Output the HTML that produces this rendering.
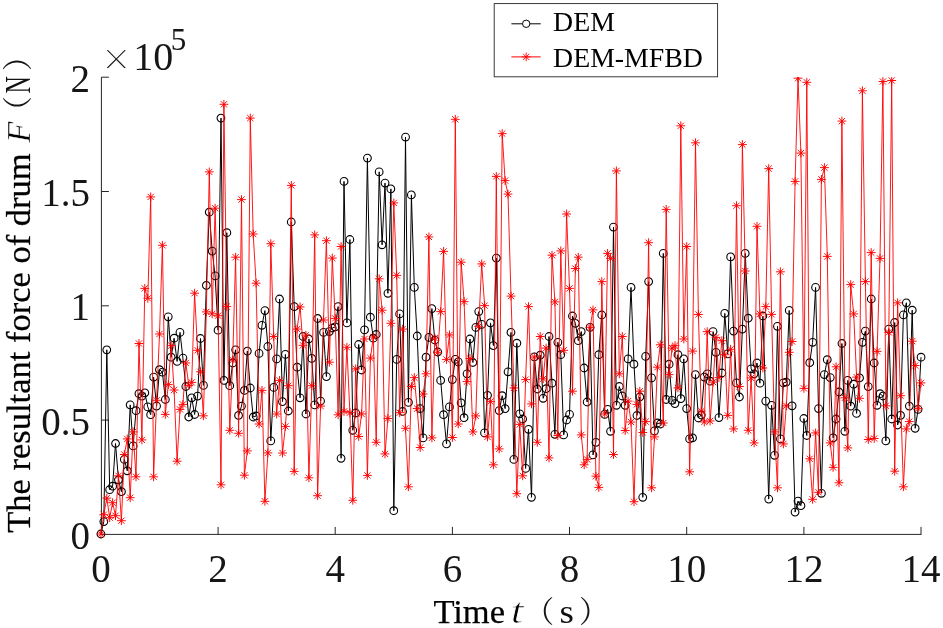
<!DOCTYPE html>
<html lang="en"><head><meta charset="utf-8"><title>Resultant force of drum</title>
<style>
html,body{margin:0;padding:0;background:#fff}
body{width:943px;height:628px;overflow:hidden}
svg{display:block;will-change:transform;opacity:0.9999}
text{font-family:"Liberation Serif","Noto Serif CJK SC",serif;fill:#161616}
.tk{font-size:39px}
.lb{font-size:34.5px;fill:#000;stroke:#000;stroke-width:0.25px}
.cj{font-family:"Noto Serif CJK SC","Liberation Serif",serif;font-size:30px}
.lg{font-size:27.8px;fill:#000}
</style></head><body>
<svg width="943" height="628" viewBox="0 0 943 628">
<defs><clipPath id="cp"><rect x="90" y="77" width="853" height="470"/></clipPath></defs>
<rect width="943" height="628" fill="#fff"/>
<path d="M101.4 77.2V534.4H921.5M218.1 534.4v-7.5M335.2 534.4v-7.5M452.4 534.4v-7.5M569.5 534.4v-7.5M686.7 534.4v-7.5M803.9 534.4v-7.5M921 534.4v-7.5M101.4 420.1h7.5M101.4 305.8h7.5M101.4 191.5h7.5M101.4 77.2h7.5" fill="none" stroke="#262626" stroke-width="1"/>
<polyline points="100.9,534 103.8,521.6 106.8,349.8 109.7,489.7 112.6,486.2 115.5,443.5 118.5,479.8 121.4,491.7 124.3,459.4 127.3,470.8 130.2,404.9 133.1,445.9 136,410.7 139,393.7 141.9,396.1 144.8,392.8 147.8,406.9 150.7,414.7 153.6,377.1 156.6,406.1 159.5,369.7 162.4,372.1 165.3,399.5 168.3,316.8 171.2,357.2 174.1,338.2 177.1,361.4 180,332.4 182.9,358.1 185.8,386.5 188.8,417 191.7,397.8 194.6,414.5 197.6,396.1 200.5,338.5 203.4,385.4 206.3,285.4 209.3,212.2 212.2,251.1 215.1,275.9 218.1,330.2 221,118.1 223.9,380.4 226.8,232.7 229.8,385.7 232.7,363 235.6,349.8 238.6,415.4 241.5,406.1 244.4,390.4 247.3,351.1 250.3,388 253.2,417 256.1,416 259.1,353.4 262,325.3 264.9,310.6 267.9,346.5 270.8,440.9 273.7,387.4 276.6,358.9 279.6,299 282.5,401.6 285.4,354.4 288.4,411 291.3,222 294.2,306.6 297.1,367.2 300.1,397.8 303,336.5 305.9,414 308.9,339 311.8,358.4 314.7,404.9 317.6,318.5 320.6,401.1 323.5,332.4 326.4,376.6 329.4,331.6 332.3,328 335.2,326.9 338.1,306.6 341.1,458.3 344,181.4 346.9,322.9 349.9,239.5 352.8,430.3 355.7,413 358.7,344.5 361.6,370 364.5,329.9 367.4,158.1 370.4,317.2 373.3,338.2 376.2,334.5 379.2,171.9 382.1,244.8 385,183.1 387.9,293.3 390.9,188.9 393.8,510.7 396.7,359.4 399.7,313.9 402.6,411.5 405.5,137.1 408.4,402.4 411.4,194.9 414.3,287.4 417.2,336 420.2,408.6 423.1,437.9 426,357.2 428.9,337.4 431.9,308.6 434.8,340 437.7,352 440.7,380.4 443.6,414.7 446.5,443.9 449.5,406.9 452.4,379.6 455.3,359.4 458.2,361.9 461.2,402.8 464.1,417.7 467,373.8 470,339 472.9,362.5 475.8,327.4 478.7,311.6 481.7,324.4 484.6,432.9 487.5,395.3 490.5,322.9 493.4,345.6 496.3,258.1 499.2,410.6 502.2,395.7 505.1,408.6 508,371.8 511,332.4 513.9,459.4 516.8,343.2 519.7,413.8 522.7,419 525.6,468.4 528.5,429.3 531.5,497.3 534.4,356.9 537.3,389 540.2,355.2 543.2,398.3 546.1,388.7 549,336.5 552,383.2 554.9,434.3 557.8,342.3 560.8,354.7 563.7,434.9 566.6,420 569.5,414.4 572.5,316 575.4,323.3 578.3,340.7 581.3,331.6 584.2,368 587.1,402 590,327.4 593,454.9 595.9,442.3 598.8,354.7 601.8,315 604.7,414.4 607.6,409.4 610.5,431.3 613.5,227.1 616.4,405.3 619.3,386.5 622.3,396 625.2,405.3 628.1,358.9 631,287.4 634,364.2 636.9,415.5 639.8,397 642.8,497.3 645.7,356.4 648.6,281.6 651.6,377.9 654.5,430.9 657.4,423 660.3,424 663.3,253.4 666.2,399.5 669.1,364.2 672.1,400.3 675,403.6 677.9,354.7 680.8,398.6 683.8,358.9 686.7,408.6 689.6,438.9 692.6,437.9 695.5,374.6 698.4,418 701.3,415 704.3,377.1 707.2,373.8 710.1,381.2 713.1,331.6 716,352.3 718.9,417.6 721.8,373 724.8,313.4 727.7,353.9 730.6,256.9 733.6,331.1 736.5,382.9 739.4,397 742.4,329.1 745.3,253.4 748.2,318.2 751.1,368.8 754.1,373.8 757,363 759.9,383.2 762.9,316 765.8,401.1 768.7,499.1 771.6,405.3 774.6,455.3 777.5,326.3 780.4,438.9 783.4,382.9 786.3,382.1 789.2,310.4 792.1,405.8 795.1,512.1 798,501.1 800.9,505.7 803.9,418.5 806.8,435.5 809.7,362.7 812.6,342.3 815.6,287.4 818.5,408.6 821.4,493.3 824.4,374.6 827.3,359.7 830.2,377.6 833.1,437.9 836.1,419 839,392 841.9,343.5 844.9,431.3 847.8,380.4 850.7,406.1 853.7,384.2 856.6,413.4 859.5,377.9 862.4,342.3 865.4,331.1 868.3,386.6 871.2,299 874.2,363 877.1,405.3 880,393.7 882.9,396 885.9,440.9 888.8,329.1 891.7,419 894.7,322.5 897.6,425 900.5,415.4 903.4,314.9 906.4,302.8 909.3,406.1 912.2,310.2 915.2,428.3 918.1,409.4 921,357.2" fill="none" stroke="#000" stroke-width="1" stroke-linejoin="round"/>
<path d="M97.1 534a3.85 3.85 0 1 0 7.7 0a3.85 3.85 0 1 0 -7.7 0M100 521.6a3.85 3.85 0 1 0 7.7 0a3.85 3.85 0 1 0 -7.7 0M102.9 349.8a3.85 3.85 0 1 0 7.7 0a3.85 3.85 0 1 0 -7.7 0M105.8 489.7a3.85 3.85 0 1 0 7.7 0a3.85 3.85 0 1 0 -7.7 0M108.8 486.2a3.85 3.85 0 1 0 7.7 0a3.85 3.85 0 1 0 -7.7 0M111.7 443.5a3.85 3.85 0 1 0 7.7 0a3.85 3.85 0 1 0 -7.7 0M114.6 479.8a3.85 3.85 0 1 0 7.7 0a3.85 3.85 0 1 0 -7.7 0M117.6 491.7a3.85 3.85 0 1 0 7.7 0a3.85 3.85 0 1 0 -7.7 0M120.5 459.4a3.85 3.85 0 1 0 7.7 0a3.85 3.85 0 1 0 -7.7 0M123.4 470.8a3.85 3.85 0 1 0 7.7 0a3.85 3.85 0 1 0 -7.7 0M126.3 404.9a3.85 3.85 0 1 0 7.7 0a3.85 3.85 0 1 0 -7.7 0M129.3 445.9a3.85 3.85 0 1 0 7.7 0a3.85 3.85 0 1 0 -7.7 0M132.2 410.7a3.85 3.85 0 1 0 7.7 0a3.85 3.85 0 1 0 -7.7 0M135.1 393.7a3.85 3.85 0 1 0 7.7 0a3.85 3.85 0 1 0 -7.7 0M138.1 396.1a3.85 3.85 0 1 0 7.7 0a3.85 3.85 0 1 0 -7.7 0M141 392.8a3.85 3.85 0 1 0 7.7 0a3.85 3.85 0 1 0 -7.7 0M143.9 406.9a3.85 3.85 0 1 0 7.7 0a3.85 3.85 0 1 0 -7.7 0M146.8 414.7a3.85 3.85 0 1 0 7.7 0a3.85 3.85 0 1 0 -7.7 0M149.8 377.1a3.85 3.85 0 1 0 7.7 0a3.85 3.85 0 1 0 -7.7 0M152.7 406.1a3.85 3.85 0 1 0 7.7 0a3.85 3.85 0 1 0 -7.7 0M155.6 369.7a3.85 3.85 0 1 0 7.7 0a3.85 3.85 0 1 0 -7.7 0M158.6 372.1a3.85 3.85 0 1 0 7.7 0a3.85 3.85 0 1 0 -7.7 0M161.5 399.5a3.85 3.85 0 1 0 7.7 0a3.85 3.85 0 1 0 -7.7 0M164.4 316.8a3.85 3.85 0 1 0 7.7 0a3.85 3.85 0 1 0 -7.7 0M167.3 357.2a3.85 3.85 0 1 0 7.7 0a3.85 3.85 0 1 0 -7.7 0M170.3 338.2a3.85 3.85 0 1 0 7.7 0a3.85 3.85 0 1 0 -7.7 0M173.2 361.4a3.85 3.85 0 1 0 7.7 0a3.85 3.85 0 1 0 -7.7 0M176.1 332.4a3.85 3.85 0 1 0 7.7 0a3.85 3.85 0 1 0 -7.7 0M179.1 358.1a3.85 3.85 0 1 0 7.7 0a3.85 3.85 0 1 0 -7.7 0M182 386.5a3.85 3.85 0 1 0 7.7 0a3.85 3.85 0 1 0 -7.7 0M184.9 417a3.85 3.85 0 1 0 7.7 0a3.85 3.85 0 1 0 -7.7 0M187.8 397.8a3.85 3.85 0 1 0 7.7 0a3.85 3.85 0 1 0 -7.7 0M190.8 414.5a3.85 3.85 0 1 0 7.7 0a3.85 3.85 0 1 0 -7.7 0M193.7 396.1a3.85 3.85 0 1 0 7.7 0a3.85 3.85 0 1 0 -7.7 0M196.6 338.5a3.85 3.85 0 1 0 7.7 0a3.85 3.85 0 1 0 -7.7 0M199.6 385.4a3.85 3.85 0 1 0 7.7 0a3.85 3.85 0 1 0 -7.7 0M202.5 285.4a3.85 3.85 0 1 0 7.7 0a3.85 3.85 0 1 0 -7.7 0M205.4 212.2a3.85 3.85 0 1 0 7.7 0a3.85 3.85 0 1 0 -7.7 0M208.4 251.1a3.85 3.85 0 1 0 7.7 0a3.85 3.85 0 1 0 -7.7 0M211.3 275.9a3.85 3.85 0 1 0 7.7 0a3.85 3.85 0 1 0 -7.7 0M214.2 330.2a3.85 3.85 0 1 0 7.7 0a3.85 3.85 0 1 0 -7.7 0M217.1 118.1a3.85 3.85 0 1 0 7.7 0a3.85 3.85 0 1 0 -7.7 0M220.1 380.4a3.85 3.85 0 1 0 7.7 0a3.85 3.85 0 1 0 -7.7 0M223 232.7a3.85 3.85 0 1 0 7.7 0a3.85 3.85 0 1 0 -7.7 0M225.9 385.7a3.85 3.85 0 1 0 7.7 0a3.85 3.85 0 1 0 -7.7 0M228.9 363a3.85 3.85 0 1 0 7.7 0a3.85 3.85 0 1 0 -7.7 0M231.8 349.8a3.85 3.85 0 1 0 7.7 0a3.85 3.85 0 1 0 -7.7 0M234.7 415.4a3.85 3.85 0 1 0 7.7 0a3.85 3.85 0 1 0 -7.7 0M237.6 406.1a3.85 3.85 0 1 0 7.7 0a3.85 3.85 0 1 0 -7.7 0M240.6 390.4a3.85 3.85 0 1 0 7.7 0a3.85 3.85 0 1 0 -7.7 0M243.5 351.1a3.85 3.85 0 1 0 7.7 0a3.85 3.85 0 1 0 -7.7 0M246.4 388a3.85 3.85 0 1 0 7.7 0a3.85 3.85 0 1 0 -7.7 0M249.4 417a3.85 3.85 0 1 0 7.7 0a3.85 3.85 0 1 0 -7.7 0M252.3 416a3.85 3.85 0 1 0 7.7 0a3.85 3.85 0 1 0 -7.7 0M255.2 353.4a3.85 3.85 0 1 0 7.7 0a3.85 3.85 0 1 0 -7.7 0M258.1 325.3a3.85 3.85 0 1 0 7.7 0a3.85 3.85 0 1 0 -7.7 0M261.1 310.6a3.85 3.85 0 1 0 7.7 0a3.85 3.85 0 1 0 -7.7 0M264 346.5a3.85 3.85 0 1 0 7.7 0a3.85 3.85 0 1 0 -7.7 0M266.9 440.9a3.85 3.85 0 1 0 7.7 0a3.85 3.85 0 1 0 -7.7 0M269.9 387.4a3.85 3.85 0 1 0 7.7 0a3.85 3.85 0 1 0 -7.7 0M272.8 358.9a3.85 3.85 0 1 0 7.7 0a3.85 3.85 0 1 0 -7.7 0M275.7 299a3.85 3.85 0 1 0 7.7 0a3.85 3.85 0 1 0 -7.7 0M278.6 401.6a3.85 3.85 0 1 0 7.7 0a3.85 3.85 0 1 0 -7.7 0M281.6 354.4a3.85 3.85 0 1 0 7.7 0a3.85 3.85 0 1 0 -7.7 0M284.5 411a3.85 3.85 0 1 0 7.7 0a3.85 3.85 0 1 0 -7.7 0M287.4 222a3.85 3.85 0 1 0 7.7 0a3.85 3.85 0 1 0 -7.7 0M290.4 306.6a3.85 3.85 0 1 0 7.7 0a3.85 3.85 0 1 0 -7.7 0M293.3 367.2a3.85 3.85 0 1 0 7.7 0a3.85 3.85 0 1 0 -7.7 0M296.2 397.8a3.85 3.85 0 1 0 7.7 0a3.85 3.85 0 1 0 -7.7 0M299.2 336.5a3.85 3.85 0 1 0 7.7 0a3.85 3.85 0 1 0 -7.7 0M302.1 414a3.85 3.85 0 1 0 7.7 0a3.85 3.85 0 1 0 -7.7 0M305 339a3.85 3.85 0 1 0 7.7 0a3.85 3.85 0 1 0 -7.7 0M307.9 358.4a3.85 3.85 0 1 0 7.7 0a3.85 3.85 0 1 0 -7.7 0M310.9 404.9a3.85 3.85 0 1 0 7.7 0a3.85 3.85 0 1 0 -7.7 0M313.8 318.5a3.85 3.85 0 1 0 7.7 0a3.85 3.85 0 1 0 -7.7 0M316.7 401.1a3.85 3.85 0 1 0 7.7 0a3.85 3.85 0 1 0 -7.7 0M319.7 332.4a3.85 3.85 0 1 0 7.7 0a3.85 3.85 0 1 0 -7.7 0M322.6 376.6a3.85 3.85 0 1 0 7.7 0a3.85 3.85 0 1 0 -7.7 0M325.5 331.6a3.85 3.85 0 1 0 7.7 0a3.85 3.85 0 1 0 -7.7 0M328.4 328a3.85 3.85 0 1 0 7.7 0a3.85 3.85 0 1 0 -7.7 0M331.4 326.9a3.85 3.85 0 1 0 7.7 0a3.85 3.85 0 1 0 -7.7 0M334.3 306.6a3.85 3.85 0 1 0 7.7 0a3.85 3.85 0 1 0 -7.7 0M337.2 458.3a3.85 3.85 0 1 0 7.7 0a3.85 3.85 0 1 0 -7.7 0M340.2 181.4a3.85 3.85 0 1 0 7.7 0a3.85 3.85 0 1 0 -7.7 0M343.1 322.9a3.85 3.85 0 1 0 7.7 0a3.85 3.85 0 1 0 -7.7 0M346 239.5a3.85 3.85 0 1 0 7.7 0a3.85 3.85 0 1 0 -7.7 0M348.9 430.3a3.85 3.85 0 1 0 7.7 0a3.85 3.85 0 1 0 -7.7 0M351.9 413a3.85 3.85 0 1 0 7.7 0a3.85 3.85 0 1 0 -7.7 0M354.8 344.5a3.85 3.85 0 1 0 7.7 0a3.85 3.85 0 1 0 -7.7 0M357.7 370a3.85 3.85 0 1 0 7.7 0a3.85 3.85 0 1 0 -7.7 0M360.7 329.9a3.85 3.85 0 1 0 7.7 0a3.85 3.85 0 1 0 -7.7 0M363.6 158.1a3.85 3.85 0 1 0 7.7 0a3.85 3.85 0 1 0 -7.7 0M366.5 317.2a3.85 3.85 0 1 0 7.7 0a3.85 3.85 0 1 0 -7.7 0M369.4 338.2a3.85 3.85 0 1 0 7.7 0a3.85 3.85 0 1 0 -7.7 0M372.4 334.5a3.85 3.85 0 1 0 7.7 0a3.85 3.85 0 1 0 -7.7 0M375.3 171.9a3.85 3.85 0 1 0 7.7 0a3.85 3.85 0 1 0 -7.7 0M378.2 244.8a3.85 3.85 0 1 0 7.7 0a3.85 3.85 0 1 0 -7.7 0M381.2 183.1a3.85 3.85 0 1 0 7.7 0a3.85 3.85 0 1 0 -7.7 0M384.1 293.3a3.85 3.85 0 1 0 7.7 0a3.85 3.85 0 1 0 -7.7 0M387 188.9a3.85 3.85 0 1 0 7.7 0a3.85 3.85 0 1 0 -7.7 0M389.9 510.7a3.85 3.85 0 1 0 7.7 0a3.85 3.85 0 1 0 -7.7 0M392.9 359.4a3.85 3.85 0 1 0 7.7 0a3.85 3.85 0 1 0 -7.7 0M395.8 313.9a3.85 3.85 0 1 0 7.7 0a3.85 3.85 0 1 0 -7.7 0M398.7 411.5a3.85 3.85 0 1 0 7.7 0a3.85 3.85 0 1 0 -7.7 0M401.7 137.1a3.85 3.85 0 1 0 7.7 0a3.85 3.85 0 1 0 -7.7 0M404.6 402.4a3.85 3.85 0 1 0 7.7 0a3.85 3.85 0 1 0 -7.7 0M407.5 194.9a3.85 3.85 0 1 0 7.7 0a3.85 3.85 0 1 0 -7.7 0M410.5 287.4a3.85 3.85 0 1 0 7.7 0a3.85 3.85 0 1 0 -7.7 0M413.4 336a3.85 3.85 0 1 0 7.7 0a3.85 3.85 0 1 0 -7.7 0M416.3 408.6a3.85 3.85 0 1 0 7.7 0a3.85 3.85 0 1 0 -7.7 0M419.2 437.9a3.85 3.85 0 1 0 7.7 0a3.85 3.85 0 1 0 -7.7 0M422.2 357.2a3.85 3.85 0 1 0 7.7 0a3.85 3.85 0 1 0 -7.7 0M425.1 337.4a3.85 3.85 0 1 0 7.7 0a3.85 3.85 0 1 0 -7.7 0M428 308.6a3.85 3.85 0 1 0 7.7 0a3.85 3.85 0 1 0 -7.7 0M431 340a3.85 3.85 0 1 0 7.7 0a3.85 3.85 0 1 0 -7.7 0M433.9 352a3.85 3.85 0 1 0 7.7 0a3.85 3.85 0 1 0 -7.7 0M436.8 380.4a3.85 3.85 0 1 0 7.7 0a3.85 3.85 0 1 0 -7.7 0M439.7 414.7a3.85 3.85 0 1 0 7.7 0a3.85 3.85 0 1 0 -7.7 0M442.7 443.9a3.85 3.85 0 1 0 7.7 0a3.85 3.85 0 1 0 -7.7 0M445.6 406.9a3.85 3.85 0 1 0 7.7 0a3.85 3.85 0 1 0 -7.7 0M448.5 379.6a3.85 3.85 0 1 0 7.7 0a3.85 3.85 0 1 0 -7.7 0M451.5 359.4a3.85 3.85 0 1 0 7.7 0a3.85 3.85 0 1 0 -7.7 0M454.4 361.9a3.85 3.85 0 1 0 7.7 0a3.85 3.85 0 1 0 -7.7 0M457.3 402.8a3.85 3.85 0 1 0 7.7 0a3.85 3.85 0 1 0 -7.7 0M460.2 417.7a3.85 3.85 0 1 0 7.7 0a3.85 3.85 0 1 0 -7.7 0M463.2 373.8a3.85 3.85 0 1 0 7.7 0a3.85 3.85 0 1 0 -7.7 0M466.1 339a3.85 3.85 0 1 0 7.7 0a3.85 3.85 0 1 0 -7.7 0M469 362.5a3.85 3.85 0 1 0 7.7 0a3.85 3.85 0 1 0 -7.7 0M472 327.4a3.85 3.85 0 1 0 7.7 0a3.85 3.85 0 1 0 -7.7 0M474.9 311.6a3.85 3.85 0 1 0 7.7 0a3.85 3.85 0 1 0 -7.7 0M477.8 324.4a3.85 3.85 0 1 0 7.7 0a3.85 3.85 0 1 0 -7.7 0M480.7 432.9a3.85 3.85 0 1 0 7.7 0a3.85 3.85 0 1 0 -7.7 0M483.7 395.3a3.85 3.85 0 1 0 7.7 0a3.85 3.85 0 1 0 -7.7 0M486.6 322.9a3.85 3.85 0 1 0 7.7 0a3.85 3.85 0 1 0 -7.7 0M489.5 345.6a3.85 3.85 0 1 0 7.7 0a3.85 3.85 0 1 0 -7.7 0M492.5 258.1a3.85 3.85 0 1 0 7.7 0a3.85 3.85 0 1 0 -7.7 0M495.4 410.6a3.85 3.85 0 1 0 7.7 0a3.85 3.85 0 1 0 -7.7 0M498.3 395.7a3.85 3.85 0 1 0 7.7 0a3.85 3.85 0 1 0 -7.7 0M501.3 408.6a3.85 3.85 0 1 0 7.7 0a3.85 3.85 0 1 0 -7.7 0M504.2 371.8a3.85 3.85 0 1 0 7.7 0a3.85 3.85 0 1 0 -7.7 0M507.1 332.4a3.85 3.85 0 1 0 7.7 0a3.85 3.85 0 1 0 -7.7 0M510 459.4a3.85 3.85 0 1 0 7.7 0a3.85 3.85 0 1 0 -7.7 0M513 343.2a3.85 3.85 0 1 0 7.7 0a3.85 3.85 0 1 0 -7.7 0M515.9 413.8a3.85 3.85 0 1 0 7.7 0a3.85 3.85 0 1 0 -7.7 0M518.8 419a3.85 3.85 0 1 0 7.7 0a3.85 3.85 0 1 0 -7.7 0M521.8 468.4a3.85 3.85 0 1 0 7.7 0a3.85 3.85 0 1 0 -7.7 0M524.7 429.3a3.85 3.85 0 1 0 7.7 0a3.85 3.85 0 1 0 -7.7 0M527.6 497.3a3.85 3.85 0 1 0 7.7 0a3.85 3.85 0 1 0 -7.7 0M530.5 356.9a3.85 3.85 0 1 0 7.7 0a3.85 3.85 0 1 0 -7.7 0M533.5 389a3.85 3.85 0 1 0 7.7 0a3.85 3.85 0 1 0 -7.7 0M536.4 355.2a3.85 3.85 0 1 0 7.7 0a3.85 3.85 0 1 0 -7.7 0M539.3 398.3a3.85 3.85 0 1 0 7.7 0a3.85 3.85 0 1 0 -7.7 0M542.3 388.7a3.85 3.85 0 1 0 7.7 0a3.85 3.85 0 1 0 -7.7 0M545.2 336.5a3.85 3.85 0 1 0 7.7 0a3.85 3.85 0 1 0 -7.7 0M548.1 383.2a3.85 3.85 0 1 0 7.7 0a3.85 3.85 0 1 0 -7.7 0M551 434.3a3.85 3.85 0 1 0 7.7 0a3.85 3.85 0 1 0 -7.7 0M554 342.3a3.85 3.85 0 1 0 7.7 0a3.85 3.85 0 1 0 -7.7 0M556.9 354.7a3.85 3.85 0 1 0 7.7 0a3.85 3.85 0 1 0 -7.7 0M559.8 434.9a3.85 3.85 0 1 0 7.7 0a3.85 3.85 0 1 0 -7.7 0M562.8 420a3.85 3.85 0 1 0 7.7 0a3.85 3.85 0 1 0 -7.7 0M565.7 414.4a3.85 3.85 0 1 0 7.7 0a3.85 3.85 0 1 0 -7.7 0M568.6 316a3.85 3.85 0 1 0 7.7 0a3.85 3.85 0 1 0 -7.7 0M571.5 323.3a3.85 3.85 0 1 0 7.7 0a3.85 3.85 0 1 0 -7.7 0M574.5 340.7a3.85 3.85 0 1 0 7.7 0a3.85 3.85 0 1 0 -7.7 0M577.4 331.6a3.85 3.85 0 1 0 7.7 0a3.85 3.85 0 1 0 -7.7 0M580.3 368a3.85 3.85 0 1 0 7.7 0a3.85 3.85 0 1 0 -7.7 0M583.3 402a3.85 3.85 0 1 0 7.7 0a3.85 3.85 0 1 0 -7.7 0M586.2 327.4a3.85 3.85 0 1 0 7.7 0a3.85 3.85 0 1 0 -7.7 0M589.1 454.9a3.85 3.85 0 1 0 7.7 0a3.85 3.85 0 1 0 -7.7 0M592.1 442.3a3.85 3.85 0 1 0 7.7 0a3.85 3.85 0 1 0 -7.7 0M595 354.7a3.85 3.85 0 1 0 7.7 0a3.85 3.85 0 1 0 -7.7 0M597.9 315a3.85 3.85 0 1 0 7.7 0a3.85 3.85 0 1 0 -7.7 0M600.8 414.4a3.85 3.85 0 1 0 7.7 0a3.85 3.85 0 1 0 -7.7 0M603.8 409.4a3.85 3.85 0 1 0 7.7 0a3.85 3.85 0 1 0 -7.7 0M606.7 431.3a3.85 3.85 0 1 0 7.7 0a3.85 3.85 0 1 0 -7.7 0M609.6 227.1a3.85 3.85 0 1 0 7.7 0a3.85 3.85 0 1 0 -7.7 0M612.6 405.3a3.85 3.85 0 1 0 7.7 0a3.85 3.85 0 1 0 -7.7 0M615.5 386.5a3.85 3.85 0 1 0 7.7 0a3.85 3.85 0 1 0 -7.7 0M618.4 396a3.85 3.85 0 1 0 7.7 0a3.85 3.85 0 1 0 -7.7 0M621.3 405.3a3.85 3.85 0 1 0 7.7 0a3.85 3.85 0 1 0 -7.7 0M624.3 358.9a3.85 3.85 0 1 0 7.7 0a3.85 3.85 0 1 0 -7.7 0M627.2 287.4a3.85 3.85 0 1 0 7.7 0a3.85 3.85 0 1 0 -7.7 0M630.1 364.2a3.85 3.85 0 1 0 7.7 0a3.85 3.85 0 1 0 -7.7 0M633.1 415.5a3.85 3.85 0 1 0 7.7 0a3.85 3.85 0 1 0 -7.7 0M636 397a3.85 3.85 0 1 0 7.7 0a3.85 3.85 0 1 0 -7.7 0M638.9 497.3a3.85 3.85 0 1 0 7.7 0a3.85 3.85 0 1 0 -7.7 0M641.8 356.4a3.85 3.85 0 1 0 7.7 0a3.85 3.85 0 1 0 -7.7 0M644.8 281.6a3.85 3.85 0 1 0 7.7 0a3.85 3.85 0 1 0 -7.7 0M647.7 377.9a3.85 3.85 0 1 0 7.7 0a3.85 3.85 0 1 0 -7.7 0M650.6 430.9a3.85 3.85 0 1 0 7.7 0a3.85 3.85 0 1 0 -7.7 0M653.6 423a3.85 3.85 0 1 0 7.7 0a3.85 3.85 0 1 0 -7.7 0M656.5 424a3.85 3.85 0 1 0 7.7 0a3.85 3.85 0 1 0 -7.7 0M659.4 253.4a3.85 3.85 0 1 0 7.7 0a3.85 3.85 0 1 0 -7.7 0M662.3 399.5a3.85 3.85 0 1 0 7.7 0a3.85 3.85 0 1 0 -7.7 0M665.3 364.2a3.85 3.85 0 1 0 7.7 0a3.85 3.85 0 1 0 -7.7 0M668.2 400.3a3.85 3.85 0 1 0 7.7 0a3.85 3.85 0 1 0 -7.7 0M671.1 403.6a3.85 3.85 0 1 0 7.7 0a3.85 3.85 0 1 0 -7.7 0M674.1 354.7a3.85 3.85 0 1 0 7.7 0a3.85 3.85 0 1 0 -7.7 0M677 398.6a3.85 3.85 0 1 0 7.7 0a3.85 3.85 0 1 0 -7.7 0M679.9 358.9a3.85 3.85 0 1 0 7.7 0a3.85 3.85 0 1 0 -7.7 0M682.8 408.6a3.85 3.85 0 1 0 7.7 0a3.85 3.85 0 1 0 -7.7 0M685.8 438.9a3.85 3.85 0 1 0 7.7 0a3.85 3.85 0 1 0 -7.7 0M688.7 437.9a3.85 3.85 0 1 0 7.7 0a3.85 3.85 0 1 0 -7.7 0M691.6 374.6a3.85 3.85 0 1 0 7.7 0a3.85 3.85 0 1 0 -7.7 0M694.6 418a3.85 3.85 0 1 0 7.7 0a3.85 3.85 0 1 0 -7.7 0M697.5 415a3.85 3.85 0 1 0 7.7 0a3.85 3.85 0 1 0 -7.7 0M700.4 377.1a3.85 3.85 0 1 0 7.7 0a3.85 3.85 0 1 0 -7.7 0M703.4 373.8a3.85 3.85 0 1 0 7.7 0a3.85 3.85 0 1 0 -7.7 0M706.3 381.2a3.85 3.85 0 1 0 7.7 0a3.85 3.85 0 1 0 -7.7 0M709.2 331.6a3.85 3.85 0 1 0 7.7 0a3.85 3.85 0 1 0 -7.7 0M712.1 352.3a3.85 3.85 0 1 0 7.7 0a3.85 3.85 0 1 0 -7.7 0M715.1 417.6a3.85 3.85 0 1 0 7.7 0a3.85 3.85 0 1 0 -7.7 0M718 373a3.85 3.85 0 1 0 7.7 0a3.85 3.85 0 1 0 -7.7 0M720.9 313.4a3.85 3.85 0 1 0 7.7 0a3.85 3.85 0 1 0 -7.7 0M723.9 353.9a3.85 3.85 0 1 0 7.7 0a3.85 3.85 0 1 0 -7.7 0M726.8 256.9a3.85 3.85 0 1 0 7.7 0a3.85 3.85 0 1 0 -7.7 0M729.7 331.1a3.85 3.85 0 1 0 7.7 0a3.85 3.85 0 1 0 -7.7 0M732.6 382.9a3.85 3.85 0 1 0 7.7 0a3.85 3.85 0 1 0 -7.7 0M735.6 397a3.85 3.85 0 1 0 7.7 0a3.85 3.85 0 1 0 -7.7 0M738.5 329.1a3.85 3.85 0 1 0 7.7 0a3.85 3.85 0 1 0 -7.7 0M741.4 253.4a3.85 3.85 0 1 0 7.7 0a3.85 3.85 0 1 0 -7.7 0M744.4 318.2a3.85 3.85 0 1 0 7.7 0a3.85 3.85 0 1 0 -7.7 0M747.3 368.8a3.85 3.85 0 1 0 7.7 0a3.85 3.85 0 1 0 -7.7 0M750.2 373.8a3.85 3.85 0 1 0 7.7 0a3.85 3.85 0 1 0 -7.7 0M753.1 363a3.85 3.85 0 1 0 7.7 0a3.85 3.85 0 1 0 -7.7 0M756.1 383.2a3.85 3.85 0 1 0 7.7 0a3.85 3.85 0 1 0 -7.7 0M759 316a3.85 3.85 0 1 0 7.7 0a3.85 3.85 0 1 0 -7.7 0M761.9 401.1a3.85 3.85 0 1 0 7.7 0a3.85 3.85 0 1 0 -7.7 0M764.9 499.1a3.85 3.85 0 1 0 7.7 0a3.85 3.85 0 1 0 -7.7 0M767.8 405.3a3.85 3.85 0 1 0 7.7 0a3.85 3.85 0 1 0 -7.7 0M770.7 455.3a3.85 3.85 0 1 0 7.7 0a3.85 3.85 0 1 0 -7.7 0M773.6 326.3a3.85 3.85 0 1 0 7.7 0a3.85 3.85 0 1 0 -7.7 0M776.6 438.9a3.85 3.85 0 1 0 7.7 0a3.85 3.85 0 1 0 -7.7 0M779.5 382.9a3.85 3.85 0 1 0 7.7 0a3.85 3.85 0 1 0 -7.7 0M782.4 382.1a3.85 3.85 0 1 0 7.7 0a3.85 3.85 0 1 0 -7.7 0M785.4 310.4a3.85 3.85 0 1 0 7.7 0a3.85 3.85 0 1 0 -7.7 0M788.3 405.8a3.85 3.85 0 1 0 7.7 0a3.85 3.85 0 1 0 -7.7 0M791.2 512.1a3.85 3.85 0 1 0 7.7 0a3.85 3.85 0 1 0 -7.7 0M794.2 501.1a3.85 3.85 0 1 0 7.7 0a3.85 3.85 0 1 0 -7.7 0M797.1 505.7a3.85 3.85 0 1 0 7.7 0a3.85 3.85 0 1 0 -7.7 0M800 418.5a3.85 3.85 0 1 0 7.7 0a3.85 3.85 0 1 0 -7.7 0M802.9 435.5a3.85 3.85 0 1 0 7.7 0a3.85 3.85 0 1 0 -7.7 0M805.9 362.7a3.85 3.85 0 1 0 7.7 0a3.85 3.85 0 1 0 -7.7 0M808.8 342.3a3.85 3.85 0 1 0 7.7 0a3.85 3.85 0 1 0 -7.7 0M811.7 287.4a3.85 3.85 0 1 0 7.7 0a3.85 3.85 0 1 0 -7.7 0M814.7 408.6a3.85 3.85 0 1 0 7.7 0a3.85 3.85 0 1 0 -7.7 0M817.6 493.3a3.85 3.85 0 1 0 7.7 0a3.85 3.85 0 1 0 -7.7 0M820.5 374.6a3.85 3.85 0 1 0 7.7 0a3.85 3.85 0 1 0 -7.7 0M823.4 359.7a3.85 3.85 0 1 0 7.7 0a3.85 3.85 0 1 0 -7.7 0M826.4 377.6a3.85 3.85 0 1 0 7.7 0a3.85 3.85 0 1 0 -7.7 0M829.3 437.9a3.85 3.85 0 1 0 7.7 0a3.85 3.85 0 1 0 -7.7 0M832.2 419a3.85 3.85 0 1 0 7.7 0a3.85 3.85 0 1 0 -7.7 0M835.2 392a3.85 3.85 0 1 0 7.7 0a3.85 3.85 0 1 0 -7.7 0M838.1 343.5a3.85 3.85 0 1 0 7.7 0a3.85 3.85 0 1 0 -7.7 0M841 431.3a3.85 3.85 0 1 0 7.7 0a3.85 3.85 0 1 0 -7.7 0M843.9 380.4a3.85 3.85 0 1 0 7.7 0a3.85 3.85 0 1 0 -7.7 0M846.9 406.1a3.85 3.85 0 1 0 7.7 0a3.85 3.85 0 1 0 -7.7 0M849.8 384.2a3.85 3.85 0 1 0 7.7 0a3.85 3.85 0 1 0 -7.7 0M852.7 413.4a3.85 3.85 0 1 0 7.7 0a3.85 3.85 0 1 0 -7.7 0M855.7 377.9a3.85 3.85 0 1 0 7.7 0a3.85 3.85 0 1 0 -7.7 0M858.6 342.3a3.85 3.85 0 1 0 7.7 0a3.85 3.85 0 1 0 -7.7 0M861.5 331.1a3.85 3.85 0 1 0 7.7 0a3.85 3.85 0 1 0 -7.7 0M864.4 386.6a3.85 3.85 0 1 0 7.7 0a3.85 3.85 0 1 0 -7.7 0M867.4 299a3.85 3.85 0 1 0 7.7 0a3.85 3.85 0 1 0 -7.7 0M870.3 363a3.85 3.85 0 1 0 7.7 0a3.85 3.85 0 1 0 -7.7 0M873.2 405.3a3.85 3.85 0 1 0 7.7 0a3.85 3.85 0 1 0 -7.7 0M876.2 393.7a3.85 3.85 0 1 0 7.7 0a3.85 3.85 0 1 0 -7.7 0M879.1 396a3.85 3.85 0 1 0 7.7 0a3.85 3.85 0 1 0 -7.7 0M882 440.9a3.85 3.85 0 1 0 7.7 0a3.85 3.85 0 1 0 -7.7 0M885 329.1a3.85 3.85 0 1 0 7.7 0a3.85 3.85 0 1 0 -7.7 0M887.9 419a3.85 3.85 0 1 0 7.7 0a3.85 3.85 0 1 0 -7.7 0M890.8 322.5a3.85 3.85 0 1 0 7.7 0a3.85 3.85 0 1 0 -7.7 0M893.7 425a3.85 3.85 0 1 0 7.7 0a3.85 3.85 0 1 0 -7.7 0M896.7 415.4a3.85 3.85 0 1 0 7.7 0a3.85 3.85 0 1 0 -7.7 0M899.6 314.9a3.85 3.85 0 1 0 7.7 0a3.85 3.85 0 1 0 -7.7 0M902.5 302.8a3.85 3.85 0 1 0 7.7 0a3.85 3.85 0 1 0 -7.7 0M905.5 406.1a3.85 3.85 0 1 0 7.7 0a3.85 3.85 0 1 0 -7.7 0M908.4 310.2a3.85 3.85 0 1 0 7.7 0a3.85 3.85 0 1 0 -7.7 0M911.3 428.3a3.85 3.85 0 1 0 7.7 0a3.85 3.85 0 1 0 -7.7 0M914.2 409.4a3.85 3.85 0 1 0 7.7 0a3.85 3.85 0 1 0 -7.7 0M917.2 357.2a3.85 3.85 0 1 0 7.7 0a3.85 3.85 0 1 0 -7.7 0" fill="none" stroke="#000" stroke-width="1.1"/>
<polyline points="100.9,534 103.8,514.7 106.8,498.1 109.7,517.7 112.6,502.7 115.5,515.7 118.5,475.8 121.4,520.7 124.3,454.5 127.3,438.9 130.2,497.7 133.1,431.9 136,476.8 139,343.5 141.9,439.9 144.8,288.4 147.8,298.3 150.7,196.9 153.6,476.8 156.6,400.3 159.5,334 162.4,245.3 165.3,414.4 168.3,384.6 171.2,345.6 174.1,390 177.1,461.2 180,409.4 182.9,404.4 185.8,363 188.8,385.4 191.7,382.4 194.6,293.2 197.6,350.3 200.5,371.8 203.4,415.8 206.3,311.9 209.3,171.9 212.2,313.9 215.1,208.2 218.1,315.7 221,484.8 223.9,104.3 226.8,306.6 229.8,430.3 232.7,360 235.6,257.2 238.6,433.3 241.5,199.6 244.4,475.2 247.3,450.9 250.3,118.1 253.2,234 256.1,283.2 259.1,424 262,390.4 264.9,501.3 267.9,452.9 270.8,243.7 273.7,336.5 276.6,414 279.6,380.4 282.5,453 285.4,426.4 288.4,385.7 291.3,185.4 294.2,471.4 297.1,329.1 300.1,306.9 303,345.3 305.9,335.2 308.9,477.8 311.8,385.7 314.7,234.9 317.6,495.7 320.6,406.1 323.5,320 326.4,240.7 329.4,362.2 332.3,258.1 335.2,318.4 338.1,414.8 341.1,246.5 344,411.4 346.9,347.3 349.9,412.7 352.8,500.3 355.7,368.8 358.7,436.5 361.6,413.9 364.5,339 367.4,475.4 370.4,358.1 373.3,337 376.2,442.3 379.2,278.8 382.1,310.2 385,453.9 387.9,418.5 390.9,323.3 393.8,202.9 396.7,275.4 399.7,412.7 402.6,329.1 405.5,428.3 408.4,486.8 411.4,386.5 414.3,377.6 417.2,408.6 420.2,447.5 423.1,394 426,373.8 428.9,236.9 431.9,437.9 434.8,338.2 437.7,352.3 440.7,311.6 443.6,251.4 446.5,359.4 449.5,334.9 452.4,437.5 455.3,119.3 458.2,424 461.2,262.2 464.1,301.6 467,381.6 470,358.4 472.9,431.9 475.8,415.9 478.7,326.3 481.7,263.9 484.6,305.6 487.5,436.9 490.5,401.6 493.4,464.8 496.3,176.4 499.2,448.9 502.2,133.6 505.1,180.6 508,194.1 511,296.1 513.9,387.9 516.8,493.7 519.7,424.4 522.7,475.8 525.6,379.6 528.5,306.6 531.5,403.9 534.4,357 537.3,442.3 540.2,336.5 543.2,378.8 546.1,348.1 549,457.9 552,255.2 554.9,301.9 557.8,435.5 560.8,250.9 563.7,350.3 566.6,214 569.5,288.4 572.5,391.2 575.4,268.5 578.3,257.2 581.3,434.9 584.2,464.8 587.1,459.4 590,327.4 593,309.9 595.9,476.2 598.8,487.4 601.8,281.6 604.7,414 607.6,253.4 610.5,258.4 613.5,454.5 616.4,170.9 619.3,373.8 622.3,336.5 625.2,430.5 628.1,401.1 631,422 634,501.7 636.9,404.4 639.8,391.2 642.8,432.5 645.7,421.6 648.6,242.7 651.6,487.8 654.5,436.9 657.4,367.2 660.3,344.8 663.3,423 666.2,209.4 669.1,374.6 672.1,348.1 675,345.6 677.9,387.9 680.8,125.8 683.8,339 686.7,246.5 689.6,471.8 692.6,351.1 695.5,142.8 698.4,314.5 701.3,411.1 704.3,422 707.2,331.6 710.1,421 713.1,382.1 716,337.4 718.9,377.6 721.8,340.7 724.8,354.7 727.7,415.4 730.6,349.3 733.6,428.9 736.5,205.7 739.4,386.5 742.4,144.6 745.3,271 748.2,430.3 751.1,377.9 754.1,442.9 757,226.3 759.9,313.9 762.9,368 765.8,306.6 768.7,168.6 771.6,314.4 774.6,431.9 777.5,487.8 780.4,271.8 783.4,443.9 786.3,405.8 789.2,352.3 792.1,341.5 795.1,181.4 798,78.2 800.9,153.1 803.9,388.4 806.8,82.3 809.7,458.8 812.6,499.3 815.6,432.9 818.5,492.3 821.4,179.4 824.4,167.6 827.3,256.4 830.2,442.9 833.1,467.4 836.1,366.8 839,482.8 841.9,121.1 844.9,397.8 847.8,447.9 850.7,284.6 853.7,313.9 856.6,377.1 859.5,398.3 862.4,90.8 865.4,281.6 868.3,439.5 871.2,252.6 874.2,438.5 877.1,351.4 880,258.4 882.9,81.5 885.9,405.8 888.8,332.4 891.7,80.5 894.7,471.2 897.6,302.8 900.5,395.7 903.4,486.8 906.4,428.9 909.3,421.6 912.2,341.2 915.2,365.5 918.1,408.6 921,382.9" fill="none" stroke="#f00" stroke-width="0.9" stroke-linejoin="round"/>
<path d="M96.5 534H105.3M100.9 529.6V538.4M97.8 530.9L104 537.1M97.8 537.1L104 530.9M99.4 514.7H108.2M103.8 510.3V519.1M100.7 511.6L106.9 517.8M100.7 517.8L106.9 511.6M102.4 498.1H111.2M106.8 493.7V502.5M103.7 495L109.9 501.2M103.7 501.2L109.9 495M105.3 517.7H114.1M109.7 513.3V522.1M106.6 514.6L112.8 520.8M106.6 520.8L112.8 514.6M108.2 502.7H117M112.6 498.3V507.1M109.5 499.6L115.7 505.8M109.5 505.8L115.7 499.6M111.1 515.7H119.9M115.5 511.3V520.1M112.4 512.6L118.6 518.8M112.4 518.8L118.6 512.6M114.1 475.8H122.9M118.5 471.4V480.2M115.4 472.7L121.6 478.9M115.4 478.9L121.6 472.7M117 520.7H125.8M121.4 516.3V525.1M118.3 517.6L124.5 523.8M118.3 523.8L124.5 517.6M119.9 454.5H128.7M124.3 450.1V458.9M121.2 451.4L127.4 457.6M121.2 457.6L127.4 451.4M122.9 438.9H131.7M127.3 434.5V443.3M124.2 435.8L130.4 442M124.2 442L130.4 435.8M125.8 497.7H134.6M130.2 493.3V502.1M127.1 494.6L133.3 500.8M127.1 500.8L133.3 494.6M128.7 431.9H137.5M133.1 427.5V436.3M130 428.8L136.2 435M130 435L136.2 428.8M131.6 476.8H140.4M136 472.4V481.2M132.9 473.7L139.1 479.9M132.9 479.9L139.1 473.7M134.6 343.5H143.4M139 339.1V347.9M135.9 340.4L142.1 346.6M135.9 346.6L142.1 340.4M137.5 439.9H146.3M141.9 435.5V444.3M138.8 436.8L145 443M138.8 443L145 436.8M140.4 288.4H149.2M144.8 284V292.8M141.7 285.3L147.9 291.5M141.7 291.5L147.9 285.3M143.4 298.3H152.2M147.8 293.9V302.7M144.7 295.2L150.9 301.4M144.7 301.4L150.9 295.2M146.3 196.9H155.1M150.7 192.5V201.3M147.6 193.8L153.8 200M147.6 200L153.8 193.8M149.2 476.8H158M153.6 472.4V481.2M150.5 473.7L156.7 479.9M150.5 479.9L156.7 473.7M152.2 400.3H161M156.6 395.9V404.7M153.5 397.2L159.7 403.4M153.5 403.4L159.7 397.2M155.1 334H163.9M159.5 329.6V338.4M156.4 330.9L162.6 337.1M156.4 337.1L162.6 330.9M158 245.3H166.8M162.4 240.9V249.7M159.3 242.2L165.5 248.4M159.3 248.4L165.5 242.2M160.9 414.4H169.7M165.3 410V418.8M162.2 411.3L168.4 417.5M162.2 417.5L168.4 411.3M163.9 384.6H172.7M168.3 380.2V389M165.2 381.5L171.4 387.7M165.2 387.7L171.4 381.5M166.8 345.6H175.6M171.2 341.2V350M168.1 342.5L174.3 348.7M168.1 348.7L174.3 342.5M169.7 390H178.5M174.1 385.6V394.4M171 386.9L177.2 393.1M171 393.1L177.2 386.9M172.7 461.2H181.5M177.1 456.8V465.6M174 458.1L180.2 464.3M174 464.3L180.2 458.1M175.6 409.4H184.4M180 405V413.8M176.9 406.3L183.1 412.5M176.9 412.5L183.1 406.3M178.5 404.4H187.3M182.9 400V408.8M179.8 401.3L186 407.5M179.8 407.5L186 401.3M181.4 363H190.2M185.8 358.6V367.4M182.7 359.9L188.9 366.1M182.7 366.1L188.9 359.9M184.4 385.4H193.2M188.8 381V389.8M185.7 382.3L191.9 388.5M185.7 388.5L191.9 382.3M187.3 382.4H196.1M191.7 378V386.8M188.6 379.3L194.8 385.5M188.6 385.5L194.8 379.3M190.2 293.2H199M194.6 288.8V297.6M191.5 290.1L197.7 296.3M191.5 296.3L197.7 290.1M193.2 350.3H202M197.6 345.9V354.7M194.5 347.2L200.7 353.4M194.5 353.4L200.7 347.2M196.1 371.8H204.9M200.5 367.4V376.2M197.4 368.7L203.6 374.9M197.4 374.9L203.6 368.7M199 415.8H207.8M203.4 411.4V420.2M200.3 412.7L206.5 418.9M200.3 418.9L206.5 412.7M201.9 311.9H210.7M206.3 307.5V316.3M203.2 308.8L209.4 315M203.2 315L209.4 308.8M204.9 171.9H213.7M209.3 167.5V176.3M206.2 168.8L212.4 175M206.2 175L212.4 168.8M207.8 313.9H216.6M212.2 309.5V318.3M209.1 310.8L215.3 317M209.1 317L215.3 310.8M210.7 208.2H219.5M215.1 203.8V212.6M212 205.1L218.2 211.3M212 211.3L218.2 205.1M213.7 315.7H222.5M218.1 311.3V320.1M215 312.6L221.2 318.8M215 318.8L221.2 312.6M216.6 484.8H225.4M221 480.4V489.2M217.9 481.7L224.1 487.9M217.9 487.9L224.1 481.7M219.5 104.3H228.3M223.9 99.9V108.7M220.8 101.2L227 107.4M220.8 107.4L227 101.2M222.4 306.6H231.2M226.8 302.2V311M223.7 303.5L229.9 309.7M223.7 309.7L229.9 303.5M225.4 430.3H234.2M229.8 425.9V434.7M226.7 427.2L232.9 433.4M226.7 433.4L232.9 427.2M228.3 360H237.1M232.7 355.6V364.4M229.6 356.9L235.8 363.1M229.6 363.1L235.8 356.9M231.2 257.2H240M235.6 252.8V261.6M232.5 254.1L238.7 260.3M232.5 260.3L238.7 254.1M234.2 433.3H243M238.6 428.9V437.7M235.5 430.2L241.7 436.4M235.5 436.4L241.7 430.2M237.1 199.6H245.9M241.5 195.2V204M238.4 196.5L244.6 202.7M238.4 202.7L244.6 196.5M240 475.2H248.8M244.4 470.8V479.6M241.3 472.1L247.5 478.3M241.3 478.3L247.5 472.1M242.9 450.9H251.8M247.3 446.5V455.3M244.2 447.8L250.4 454M244.2 454L250.4 447.8M245.9 118.1H254.7M250.3 113.7V122.5M247.2 115L253.4 121.2M247.2 121.2L253.4 115M248.8 234H257.6M253.2 229.6V238.4M250.1 230.9L256.3 237.1M250.1 237.1L256.3 230.9M251.7 283.2H260.5M256.1 278.8V287.6M253 280.1L259.2 286.3M253 286.3L259.2 280.1M254.7 424H263.5M259.1 419.6V428.4M256 420.9L262.2 427.1M256 427.1L262.2 420.9M257.6 390.4H266.4M262 386V394.8M258.9 387.3L265.1 393.5M258.9 393.5L265.1 387.3M260.5 501.3H269.3M264.9 496.9V505.7M261.8 498.2L268 504.4M261.8 504.4L268 498.2M263.5 452.9H272.3M267.9 448.5V457.3M264.8 449.8L271 456M264.8 456L271 449.8M266.4 243.7H275.2M270.8 239.3V248.1M267.7 240.6L273.9 246.8M267.7 246.8L273.9 240.6M269.3 336.5H278.1M273.7 332.1V340.9M270.6 333.4L276.8 339.6M270.6 339.6L276.8 333.4M272.2 414H281M276.6 409.6V418.4M273.5 410.9L279.7 417.1M273.5 417.1L279.7 410.9M275.2 380.4H284M279.6 376V384.8M276.5 377.3L282.7 383.5M276.5 383.5L282.7 377.3M278.1 453H286.9M282.5 448.6V457.4M279.4 449.9L285.6 456.1M279.4 456.1L285.6 449.9M281 426.4H289.8M285.4 422V430.8M282.3 423.3L288.5 429.5M282.3 429.5L288.5 423.3M284 385.7H292.8M288.4 381.3V390.1M285.3 382.6L291.5 388.8M285.3 388.8L291.5 382.6M286.9 185.4H295.7M291.3 181V189.8M288.2 182.3L294.4 188.5M288.2 188.5L294.4 182.3M289.8 471.4H298.6M294.2 467V475.8M291.1 468.3L297.3 474.5M291.1 474.5L297.3 468.3M292.7 329.1H301.5M297.1 324.7V333.5M294 326L300.2 332.2M294 332.2L300.2 326M295.7 306.9H304.5M300.1 302.5V311.3M297 303.8L303.2 310M297 310L303.2 303.8M298.6 345.3H307.4M303 340.9V349.7M299.9 342.2L306.1 348.4M299.9 348.4L306.1 342.2M301.5 335.2H310.3M305.9 330.8V339.6M302.8 332.1L309 338.3M302.8 338.3L309 332.1M304.5 477.8H313.3M308.9 473.4V482.2M305.8 474.7L312 480.9M305.8 480.9L312 474.7M307.4 385.7H316.2M311.8 381.3V390.1M308.7 382.6L314.9 388.8M308.7 388.8L314.9 382.6M310.3 234.9H319.1M314.7 230.5V239.3M311.6 231.8L317.8 238M311.6 238L317.8 231.8M313.2 495.7H322M317.6 491.3V500.1M314.5 492.6L320.7 498.8M314.5 498.8L320.7 492.6M316.2 406.1H325M320.6 401.7V410.5M317.5 403L323.7 409.2M317.5 409.2L323.7 403M319.1 320H327.9M323.5 315.6V324.4M320.4 316.9L326.6 323.1M320.4 323.1L326.6 316.9M322 240.7H330.8M326.4 236.3V245.1M323.3 237.6L329.5 243.8M323.3 243.8L329.5 237.6M325 362.2H333.8M329.4 357.8V366.6M326.3 359.1L332.5 365.3M326.3 365.3L332.5 359.1M327.9 258.1H336.7M332.3 253.7V262.5M329.2 255L335.4 261.2M329.2 261.2L335.4 255M330.8 318.4H339.6M335.2 314V322.8M332.1 315.3L338.3 321.5M332.1 321.5L338.3 315.3M333.7 414.8H342.5M338.1 410.4V419.2M335 411.7L341.2 417.9M335 417.9L341.2 411.7M336.7 246.5H345.5M341.1 242.1V250.9M338 243.4L344.2 249.6M338 249.6L344.2 243.4M339.6 411.4H348.4M344 407V415.8M340.9 408.3L347.1 414.5M340.9 414.5L347.1 408.3M342.5 347.3H351.3M346.9 342.9V351.7M343.8 344.2L350 350.4M343.8 350.4L350 344.2M345.5 412.7H354.3M349.9 408.3V417.1M346.8 409.6L353 415.8M346.8 415.8L353 409.6M348.4 500.3H357.2M352.8 495.9V504.7M349.7 497.2L355.9 503.4M349.7 503.4L355.9 497.2M351.3 368.8H360.1M355.7 364.4V373.2M352.6 365.7L358.8 371.9M352.6 371.9L358.8 365.7M354.3 436.5H363.1M358.7 432.1V440.9M355.6 433.4L361.8 439.6M355.6 439.6L361.8 433.4M357.2 413.9H366M361.6 409.5V418.3M358.5 410.8L364.7 417M358.5 417L364.7 410.8M360.1 339H368.9M364.5 334.6V343.4M361.4 335.9L367.6 342.1M361.4 342.1L367.6 335.9M363 475.4H371.8M367.4 471V479.8M364.3 472.3L370.5 478.5M364.3 478.5L370.5 472.3M366 358.1H374.8M370.4 353.7V362.5M367.3 355L373.5 361.2M367.3 361.2L373.5 355M368.9 337H377.7M373.3 332.6V341.4M370.2 333.9L376.4 340.1M370.2 340.1L376.4 333.9M371.8 442.3H380.6M376.2 437.9V446.7M373.1 439.2L379.3 445.4M373.1 445.4L379.3 439.2M374.8 278.8H383.6M379.2 274.4V283.2M376.1 275.7L382.3 281.9M376.1 281.9L382.3 275.7M377.7 310.2H386.5M382.1 305.8V314.6M379 307.1L385.2 313.3M379 313.3L385.2 307.1M380.6 453.9H389.4M385 449.5V458.3M381.9 450.8L388.1 457M381.9 457L388.1 450.8M383.5 418.5H392.3M387.9 414.1V422.9M384.8 415.4L391 421.6M384.8 421.6L391 415.4M386.5 323.3H395.3M390.9 318.9V327.7M387.8 320.2L394 326.4M387.8 326.4L394 320.2M389.4 202.9H398.2M393.8 198.5V207.3M390.7 199.8L396.9 206M390.7 206L396.9 199.8M392.3 275.4H401.1M396.7 271V279.8M393.6 272.3L399.8 278.5M393.6 278.5L399.8 272.3M395.3 412.7H404.1M399.7 408.3V417.1M396.6 409.6L402.8 415.8M396.6 415.8L402.8 409.6M398.2 329.1H407M402.6 324.7V333.5M399.5 326L405.7 332.2M399.5 332.2L405.7 326M401.1 428.3H409.9M405.5 423.9V432.7M402.4 425.2L408.6 431.4M402.4 431.4L408.6 425.2M404 486.8H412.8M408.4 482.4V491.2M405.3 483.7L411.5 489.9M405.3 489.9L411.5 483.7M407 386.5H415.8M411.4 382.1V390.9M408.3 383.4L414.5 389.6M408.3 389.6L414.5 383.4M409.9 377.6H418.7M414.3 373.2V382M411.2 374.5L417.4 380.7M411.2 380.7L417.4 374.5M412.8 408.6H421.6M417.2 404.2V413M414.1 405.5L420.3 411.7M414.1 411.7L420.3 405.5M415.8 447.5H424.6M420.2 443.1V451.9M417.1 444.4L423.3 450.6M417.1 450.6L423.3 444.4M418.7 394H427.5M423.1 389.6V398.4M420 390.9L426.2 397.1M420 397.1L426.2 390.9M421.6 373.8H430.4M426 369.4V378.2M422.9 370.7L429.1 376.9M422.9 376.9L429.1 370.7M424.5 236.9H433.3M428.9 232.5V241.3M425.8 233.8L432 240M425.8 240L432 233.8M427.5 437.9H436.3M431.9 433.5V442.3M428.8 434.8L435 441M428.8 441L435 434.8M430.4 338.2H439.2M434.8 333.8V342.6M431.7 335.1L437.9 341.3M431.7 341.3L437.9 335.1M433.3 352.3H442.1M437.7 347.9V356.7M434.6 349.2L440.8 355.4M434.6 355.4L440.8 349.2M436.3 311.6H445.1M440.7 307.2V316M437.6 308.5L443.8 314.7M437.6 314.7L443.8 308.5M439.2 251.4H448M443.6 247V255.8M440.5 248.3L446.7 254.5M440.5 254.5L446.7 248.3M442.1 359.4H450.9M446.5 355V363.8M443.4 356.3L449.6 362.5M443.4 362.5L449.6 356.3M445.1 334.9H453.9M449.5 330.5V339.3M446.4 331.8L452.6 338M446.4 338L452.6 331.8M448 437.5H456.8M452.4 433.1V441.9M449.3 434.4L455.5 440.6M449.3 440.6L455.5 434.4M450.9 119.3H459.7M455.3 114.9V123.7M452.2 116.2L458.4 122.4M452.2 122.4L458.4 116.2M453.8 424H462.6M458.2 419.6V428.4M455.1 420.9L461.3 427.1M455.1 427.1L461.3 420.9M456.8 262.2H465.6M461.2 257.8V266.6M458.1 259.1L464.3 265.3M458.1 265.3L464.3 259.1M459.7 301.6H468.5M464.1 297.2V306M461 298.5L467.2 304.7M461 304.7L467.2 298.5M462.6 381.6H471.4M467 377.2V386M463.9 378.5L470.1 384.7M463.9 384.7L470.1 378.5M465.6 358.4H474.4M470 354V362.8M466.9 355.3L473.1 361.5M466.9 361.5L473.1 355.3M468.5 431.9H477.3M472.9 427.5V436.3M469.8 428.8L476 435M469.8 435L476 428.8M471.4 415.9H480.2M475.8 411.5V420.3M472.7 412.8L478.9 419M472.7 419L478.9 412.8M474.3 326.3H483.1M478.7 321.9V330.7M475.6 323.2L481.8 329.4M475.6 329.4L481.8 323.2M477.3 263.9H486.1M481.7 259.5V268.3M478.6 260.8L484.8 267M478.6 267L484.8 260.8M480.2 305.6H489M484.6 301.2V310M481.5 302.5L487.7 308.7M481.5 308.7L487.7 302.5M483.1 436.9H491.9M487.5 432.5V441.3M484.4 433.8L490.6 440M484.4 440L490.6 433.8M486.1 401.6H494.9M490.5 397.2V406M487.4 398.5L493.6 404.7M487.4 404.7L493.6 398.5M489 464.8H497.8M493.4 460.4V469.2M490.3 461.7L496.5 467.9M490.3 467.9L496.5 461.7M491.9 176.4H500.7M496.3 172V180.8M493.2 173.3L499.4 179.5M493.2 179.5L499.4 173.3M494.8 448.9H503.6M499.2 444.5V453.3M496.1 445.8L502.3 452M496.1 452L502.3 445.8M497.8 133.6H506.6M502.2 129.2V138M499.1 130.5L505.3 136.7M499.1 136.7L505.3 130.5M500.7 180.6H509.5M505.1 176.2V185M502 177.5L508.2 183.7M502 183.7L508.2 177.5M503.6 194.1H512.4M508 189.7V198.5M504.9 191L511.1 197.2M504.9 197.2L511.1 191M506.6 296.1H515.4M511 291.7V300.5M507.9 293L514.1 299.2M507.9 299.2L514.1 293M509.5 387.9H518.3M513.9 383.5V392.3M510.8 384.8L517 391M510.8 391L517 384.8M512.4 493.7H521.2M516.8 489.3V498.1M513.7 490.6L519.9 496.8M513.7 496.8L519.9 490.6M515.3 424.4H524.1M519.7 420V428.8M516.6 421.3L522.8 427.5M516.6 427.5L522.8 421.3M518.3 475.8H527.1M522.7 471.4V480.2M519.6 472.7L525.8 478.9M519.6 478.9L525.8 472.7M521.2 379.6H530M525.6 375.2V384M522.5 376.5L528.7 382.7M522.5 382.7L528.7 376.5M524.1 306.6H532.9M528.5 302.2V311M525.4 303.5L531.6 309.7M525.4 309.7L531.6 303.5M527.1 403.9H535.9M531.5 399.5V408.3M528.4 400.8L534.6 407M528.4 407L534.6 400.8M530 357H538.8M534.4 352.6V361.4M531.3 353.9L537.5 360.1M531.3 360.1L537.5 353.9M532.9 442.3H541.7M537.3 437.9V446.7M534.2 439.2L540.4 445.4M534.2 445.4L540.4 439.2M535.9 336.5H544.6M540.2 332.1V340.9M537.1 333.4L543.4 339.6M537.1 339.6L543.4 333.4M538.8 378.8H547.6M543.2 374.4V383.2M540.1 375.7L546.3 381.9M540.1 381.9L546.3 375.7M541.7 348.1H550.5M546.1 343.7V352.5M543 345L549.2 351.2M543 351.2L549.2 345M544.6 457.9H553.4M549 453.5V462.3M545.9 454.8L552.1 461M545.9 461L552.1 454.8M547.6 255.2H556.4M552 250.8V259.6M548.9 252.1L555.1 258.3M548.9 258.3L555.1 252.1M550.5 301.9H559.3M554.9 297.5V306.3M551.8 298.8L558 305M551.8 305L558 298.8M553.4 435.5H562.2M557.8 431.1V439.9M554.7 432.4L560.9 438.6M554.7 438.6L560.9 432.4M556.4 250.9H565.2M560.8 246.5V255.3M557.7 247.8L563.9 254M557.7 254L563.9 247.8M559.3 350.3H568.1M563.7 345.9V354.7M560.6 347.2L566.8 353.4M560.6 353.4L566.8 347.2M562.2 214H571M566.6 209.6V218.4M563.5 210.9L569.7 217.1M563.5 217.1L569.7 210.9M565.1 288.4H573.9M569.5 284V292.8M566.4 285.3L572.6 291.5M566.4 291.5L572.6 285.3M568.1 391.2H576.9M572.5 386.8V395.6M569.4 388.1L575.6 394.3M569.4 394.3L575.6 388.1M571 268.5H579.8M575.4 264.1V272.9M572.3 265.4L578.5 271.6M572.3 271.6L578.5 265.4M573.9 257.2H582.7M578.3 252.8V261.6M575.2 254.1L581.4 260.3M575.2 260.3L581.4 254.1M576.9 434.9H585.7M581.3 430.5V439.3M578.2 431.8L584.4 438M578.2 438L584.4 431.8M579.8 464.8H588.6M584.2 460.4V469.2M581.1 461.7L587.3 467.9M581.1 467.9L587.3 461.7M582.7 459.4H591.5M587.1 455V463.8M584 456.3L590.2 462.5M584 462.5L590.2 456.3M585.6 327.4H594.4M590 323V331.8M586.9 324.3L593.1 330.5M586.9 330.5L593.1 324.3M588.6 309.9H597.4M593 305.5V314.3M589.9 306.8L596.1 313M589.9 313L596.1 306.8M591.5 476.2H600.3M595.9 471.8V480.6M592.8 473.1L599 479.3M592.8 479.3L599 473.1M594.4 487.4H603.2M598.8 483V491.8M595.7 484.3L601.9 490.5M595.7 490.5L601.9 484.3M597.4 281.6H606.2M601.8 277.2V286M598.7 278.5L604.9 284.7M598.7 284.7L604.9 278.5M600.3 414H609.1M604.7 409.6V418.4M601.6 410.9L607.8 417.1M601.6 417.1L607.8 410.9M603.2 253.4H612M607.6 249V257.8M604.5 250.3L610.7 256.5M604.5 256.5L610.7 250.3M606.1 258.4H614.9M610.5 254V262.8M607.4 255.3L613.6 261.5M607.4 261.5L613.6 255.3M609.1 454.5H617.9M613.5 450.1V458.9M610.4 451.4L616.6 457.6M610.4 457.6L616.6 451.4M612 170.9H620.8M616.4 166.5V175.3M613.3 167.8L619.5 174M613.3 174L619.5 167.8M614.9 373.8H623.7M619.3 369.4V378.2M616.2 370.7L622.4 376.9M616.2 376.9L622.4 370.7M617.9 336.5H626.7M622.3 332.1V340.9M619.2 333.4L625.4 339.6M619.2 339.6L625.4 333.4M620.8 430.5H629.6M625.2 426.1V434.9M622.1 427.4L628.3 433.6M622.1 433.6L628.3 427.4M623.7 401.1H632.5M628.1 396.7V405.5M625 398L631.2 404.2M625 404.2L631.2 398M626.6 422H635.4M631 417.6V426.4M627.9 418.9L634.1 425.1M627.9 425.1L634.1 418.9M629.6 501.7H638.4M634 497.3V506.1M630.9 498.6L637.1 504.8M630.9 504.8L637.1 498.6M632.5 404.4H641.3M636.9 400V408.8M633.8 401.3L640 407.5M633.8 407.5L640 401.3M635.4 391.2H644.2M639.8 386.8V395.6M636.7 388.1L642.9 394.3M636.7 394.3L642.9 388.1M638.4 432.5H647.2M642.8 428.1V436.9M639.7 429.4L645.9 435.6M639.7 435.6L645.9 429.4M641.3 421.6H650.1M645.7 417.2V426M642.6 418.5L648.8 424.7M642.6 424.7L648.8 418.5M644.2 242.7H653M648.6 238.3V247.1M645.5 239.6L651.7 245.8M645.5 245.8L651.7 239.6M647.2 487.8H656M651.6 483.4V492.2M648.5 484.7L654.7 490.9M648.5 490.9L654.7 484.7M650.1 436.9H658.9M654.5 432.5V441.3M651.4 433.8L657.6 440M651.4 440L657.6 433.8M653 367.2H661.8M657.4 362.8V371.6M654.3 364.1L660.5 370.3M654.3 370.3L660.5 364.1M655.9 344.8H664.7M660.3 340.4V349.2M657.2 341.7L663.4 347.9M657.2 347.9L663.4 341.7M658.9 423H667.7M663.3 418.6V427.4M660.2 419.9L666.4 426.1M660.2 426.1L666.4 419.9M661.8 209.4H670.6M666.2 205V213.8M663.1 206.3L669.3 212.5M663.1 212.5L669.3 206.3M664.7 374.6H673.5M669.1 370.2V379M666 371.5L672.2 377.7M666 377.7L672.2 371.5M667.7 348.1H676.5M672.1 343.7V352.5M669 345L675.2 351.2M669 351.2L675.2 345M670.6 345.6H679.4M675 341.2V350M671.9 342.5L678.1 348.7M671.9 348.7L678.1 342.5M673.5 387.9H682.3M677.9 383.5V392.3M674.8 384.8L681 391M674.8 391L681 384.8M676.4 125.8H685.2M680.8 121.4V130.2M677.7 122.7L683.9 128.9M677.7 128.9L683.9 122.7M679.4 339H688.2M683.8 334.6V343.4M680.7 335.9L686.9 342.1M680.7 342.1L686.9 335.9M682.3 246.5H691.1M686.7 242.1V250.9M683.6 243.4L689.8 249.6M683.6 249.6L689.8 243.4M685.2 471.8H694M689.6 467.4V476.2M686.5 468.7L692.7 474.9M686.5 474.9L692.7 468.7M688.2 351.1H697M692.6 346.7V355.5M689.5 348L695.7 354.2M689.5 354.2L695.7 348M691.1 142.8H699.9M695.5 138.4V147.2M692.4 139.7L698.6 145.9M692.4 145.9L698.6 139.7M694 314.5H702.8M698.4 310.1V318.9M695.3 311.4L701.5 317.6M695.3 317.6L701.5 311.4M696.9 411.1H705.7M701.3 406.7V415.5M698.2 408L704.4 414.2M698.2 414.2L704.4 408M699.9 422H708.7M704.3 417.6V426.4M701.2 418.9L707.4 425.1M701.2 425.1L707.4 418.9M702.8 331.6H711.6M707.2 327.2V336M704.1 328.5L710.3 334.7M704.1 334.7L710.3 328.5M705.7 421H714.5M710.1 416.6V425.4M707 417.9L713.2 424.1M707 424.1L713.2 417.9M708.7 382.1H717.5M713.1 377.7V386.5M710 379L716.2 385.2M710 385.2L716.2 379M711.6 337.4H720.4M716 333V341.8M712.9 334.3L719.1 340.5M712.9 340.5L719.1 334.3M714.5 377.6H723.3M718.9 373.2V382M715.8 374.5L722 380.7M715.8 380.7L722 374.5M717.4 340.7H726.2M721.8 336.3V345.1M718.7 337.6L724.9 343.8M718.7 343.8L724.9 337.6M720.4 354.7H729.2M724.8 350.3V359.1M721.7 351.6L727.9 357.8M721.7 357.8L727.9 351.6M723.3 415.4H732.1M727.7 411V419.8M724.6 412.3L730.8 418.5M724.6 418.5L730.8 412.3M726.2 349.3H735M730.6 344.9V353.7M727.5 346.2L733.7 352.4M727.5 352.4L733.7 346.2M729.2 428.9H738M733.6 424.5V433.3M730.5 425.8L736.7 432M730.5 432L736.7 425.8M732.1 205.7H740.9M736.5 201.3V210.1M733.4 202.6L739.6 208.8M733.4 208.8L739.6 202.6M735 386.5H743.8M739.4 382.1V390.9M736.3 383.4L742.5 389.6M736.3 389.6L742.5 383.4M738 144.6H746.8M742.4 140.2V149M739.3 141.5L745.5 147.7M739.3 147.7L745.5 141.5M740.9 271H749.7M745.3 266.6V275.4M742.2 267.9L748.4 274.1M742.2 274.1L748.4 267.9M743.8 430.3H752.6M748.2 425.9V434.7M745.1 427.2L751.3 433.4M745.1 433.4L751.3 427.2M746.7 377.9H755.5M751.1 373.5V382.3M748 374.8L754.2 381M748 381L754.2 374.8M749.7 442.9H758.5M754.1 438.5V447.3M751 439.8L757.2 446M751 446L757.2 439.8M752.6 226.3H761.4M757 221.9V230.7M753.9 223.2L760.1 229.4M753.9 229.4L760.1 223.2M755.5 313.9H764.3M759.9 309.5V318.3M756.8 310.8L763 317M756.8 317L763 310.8M758.5 368H767.3M762.9 363.6V372.4M759.8 364.9L766 371.1M759.8 371.1L766 364.9M761.4 306.6H770.2M765.8 302.2V311M762.7 303.5L768.9 309.7M762.7 309.7L768.9 303.5M764.3 168.6H773.1M768.7 164.2V173M765.6 165.5L771.8 171.7M765.6 171.7L771.8 165.5M767.2 314.4H776M771.6 310V318.8M768.5 311.3L774.7 317.5M768.5 317.5L774.7 311.3M770.2 431.9H779M774.6 427.5V436.3M771.5 428.8L777.7 435M771.5 435L777.7 428.8M773.1 487.8H781.9M777.5 483.4V492.2M774.4 484.7L780.6 490.9M774.4 490.9L780.6 484.7M776 271.8H784.8M780.4 267.4V276.2M777.3 268.7L783.5 274.9M777.3 274.9L783.5 268.7M779 443.9H787.8M783.4 439.5V448.3M780.3 440.8L786.5 447M780.3 447L786.5 440.8M781.9 405.8H790.7M786.3 401.4V410.2M783.2 402.7L789.4 408.9M783.2 408.9L789.4 402.7M784.8 352.3H793.6M789.2 347.9V356.7M786.1 349.2L792.3 355.4M786.1 355.4L792.3 349.2M787.7 341.5H796.5M792.1 337.1V345.9M789 338.4L795.2 344.6M789 344.6L795.2 338.4M790.7 181.4H799.5M795.1 177V185.8M792 178.3L798.2 184.5M792 184.5L798.2 178.3M793.6 78.2H802.4M798 73.8V82.6M794.9 75.1L801.1 81.3M794.9 81.3L801.1 75.1M796.5 153.1H805.3M800.9 148.7V157.5M797.8 150L804 156.2M797.8 156.2L804 150M799.5 388.4H808.3M803.9 384V392.8M800.8 385.3L807 391.5M800.8 391.5L807 385.3M802.4 82.3H811.2M806.8 77.9V86.7M803.7 79.2L809.9 85.4M803.7 85.4L809.9 79.2M805.3 458.8H814.1M809.7 454.4V463.2M806.6 455.7L812.8 461.9M806.6 461.9L812.8 455.7M808.2 499.3H817M812.6 494.9V503.7M809.5 496.2L815.7 502.4M809.5 502.4L815.7 496.2M811.2 432.9H820M815.6 428.5V437.3M812.5 429.8L818.7 436M812.5 436L818.7 429.8M814.1 492.3H822.9M818.5 487.9V496.7M815.4 489.2L821.6 495.4M815.4 495.4L821.6 489.2M817 179.4H825.8M821.4 175V183.8M818.3 176.3L824.5 182.5M818.3 182.5L824.5 176.3M820 167.6H828.8M824.4 163.2V172M821.3 164.5L827.5 170.7M821.3 170.7L827.5 164.5M822.9 256.4H831.7M827.3 252V260.8M824.2 253.3L830.4 259.5M824.2 259.5L830.4 253.3M825.8 442.9H834.6M830.2 438.5V447.3M827.1 439.8L833.3 446M827.1 446L833.3 439.8M828.8 467.4H837.5M833.1 463V471.8M830 464.3L836.2 470.5M830 470.5L836.2 464.3M831.7 366.8H840.5M836.1 362.4V371.2M833 363.7L839.2 369.9M833 369.9L839.2 363.7M834.6 482.8H843.4M839 478.4V487.2M835.9 479.7L842.1 485.9M835.9 485.9L842.1 479.7M837.5 121.1H846.3M841.9 116.7V125.5M838.8 118L845 124.2M838.8 124.2L845 118M840.5 397.8H849.3M844.9 393.4V402.2M841.8 394.7L848 400.9M841.8 400.9L848 394.7M843.4 447.9H852.2M847.8 443.5V452.3M844.7 444.8L850.9 451M844.7 451L850.9 444.8M846.3 284.6H855.1M850.7 280.2V289M847.6 281.5L853.8 287.7M847.6 287.7L853.8 281.5M849.3 313.9H858.1M853.7 309.5V318.3M850.6 310.8L856.8 317M850.6 317L856.8 310.8M852.2 377.1H861M856.6 372.7V381.5M853.5 374L859.7 380.2M853.5 380.2L859.7 374M855.1 398.3H863.9M859.5 393.9V402.7M856.4 395.2L862.6 401.4M856.4 401.4L862.6 395.2M858 90.8H866.8M862.4 86.4V95.2M859.3 87.7L865.5 93.9M859.3 93.9L865.5 87.7M861 281.6H869.8M865.4 277.2V286M862.3 278.5L868.5 284.7M862.3 284.7L868.5 278.5M863.9 439.5H872.7M868.3 435.1V443.9M865.2 436.4L871.4 442.6M865.2 442.6L871.4 436.4M866.8 252.6H875.6M871.2 248.2V257M868.1 249.5L874.3 255.7M868.1 255.7L874.3 249.5M869.8 438.5H878.6M874.2 434.1V442.9M871.1 435.4L877.3 441.6M871.1 441.6L877.3 435.4M872.7 351.4H881.5M877.1 347V355.8M874 348.3L880.2 354.5M874 354.5L880.2 348.3M875.6 258.4H884.4M880 254V262.8M876.9 255.3L883.1 261.5M876.9 261.5L883.1 255.3M878.5 81.5H887.3M882.9 77.1V85.9M879.8 78.4L886 84.6M879.8 84.6L886 78.4M881.5 405.8H890.3M885.9 401.4V410.2M882.8 402.7L889 408.9M882.8 408.9L889 402.7M884.4 332.4H893.2M888.8 328V336.8M885.7 329.3L891.9 335.5M885.7 335.5L891.9 329.3M887.3 80.5H896.1M891.7 76.1V84.9M888.6 77.4L894.8 83.6M888.6 83.6L894.8 77.4M890.3 471.2H899.1M894.7 466.8V475.6M891.6 468.1L897.8 474.3M891.6 474.3L897.8 468.1M893.2 302.8H902M897.6 298.4V307.2M894.5 299.7L900.7 305.9M894.5 305.9L900.7 299.7M896.1 395.7H904.9M900.5 391.3V400.1M897.4 392.6L903.6 398.8M897.4 398.8L903.6 392.6M899 486.8H907.8M903.4 482.4V491.2M900.3 483.7L906.5 489.9M900.3 489.9L906.5 483.7M902 428.9H910.8M906.4 424.5V433.3M903.3 425.8L909.5 432M903.3 432L909.5 425.8M904.9 421.6H913.7M909.3 417.2V426M906.2 418.5L912.4 424.7M906.2 424.7L912.4 418.5M907.8 341.2H916.6M912.2 336.8V345.6M909.1 338.1L915.3 344.3M909.1 344.3L915.3 338.1M910.8 365.5H919.6M915.2 361.1V369.9M912.1 362.4L918.3 368.6M912.1 368.6L918.3 362.4M913.7 408.6H922.5M918.1 404.2V413M915 405.5L921.2 411.7M915 411.7L921.2 405.5M916.6 382.9H925.4M921 378.5V387.3M917.9 379.8L924.1 386M917.9 386L924.1 379.8" fill="none" stroke="#f00" stroke-width="0.95" clip-path="url(#cp)"/>
<text class="tk" x="100.9" y="581.7" text-anchor="middle">0</text>
<text class="tk" x="218.1" y="581.7" text-anchor="middle">2</text>
<text class="tk" x="335.2" y="581.7" text-anchor="middle">4</text>
<text class="tk" x="452.4" y="581.7" text-anchor="middle">6</text>
<text class="tk" x="569.5" y="581.7" text-anchor="middle">8</text>
<text class="tk" x="686.7" y="581.7" text-anchor="middle">10</text>
<text class="tk" x="803.9" y="581.7" text-anchor="middle">12</text>
<text class="tk" x="921" y="581.7" text-anchor="middle">14</text>
<text class="tk" x="89.9" y="549" text-anchor="end">0</text>
<text class="tk" x="89.9" y="434.7" text-anchor="end">0.5</text>
<text class="tk" x="89.9" y="320.4" text-anchor="end">1</text>
<text class="tk" x="89.9" y="206.1" text-anchor="end">1.5</text>
<text class="tk" x="89.9" y="91.8" text-anchor="end">2</text>
<text x="102" y="76" style="font-size:50.5px;stroke:#fff;stroke-width:1.3px">×</text>
<text class="tk" x="133.2" y="69.6" style="font-size:40px">10</text>
<text x="170.7" y="49.9" style="font-size:31px">5</text>
<text class="lb" x="433.4" y="623">Time</text>
<text class="lb" transform="translate(510.8,623) scale(1.14,0.88)" font-style="italic" style="font-size:40px;stroke:#fff;stroke-width:0.8px">t</text>
<text class="cj" x="524.2" y="622">（</text>
<text class="lb" transform="translate(559.5,623) scale(1.12,1)" style="font-size:33px;stroke:none;fill:#111">s</text>
<text class="cj" x="579" y="622">）</text>
<g transform="translate(29.7 532.7) rotate(-90)"><text class="lb" x="0" y="0">The resultant force of drum</text><text class="lb" x="390" y="0" font-style="italic" style="stroke:#fff;stroke-width:0.4px">F</text><text class="cj" x="406.7" y="-1.4">（</text><text class="lb" transform="translate(439.1,0) scale(0.66,1)" style="font-size:36.5px;stroke:none;fill:#111">N</text><text class="cj" x="461.6" y="-1.4">）</text></g>
<rect x="494.2" y="3.6" width="223.4" height="73.2" fill="#fff" stroke="#262626" stroke-width="0.9"/>
<path d="M511.4 23.8H540.7" stroke="#000" stroke-width="1" fill="none"/>
<circle cx="526.2" cy="23.8" r="3.7" fill="#fff" stroke="#000" stroke-width="1"/>
<path d="M511.4 56.9H540.7" stroke="#f00" stroke-width="1" fill="none"/>
<path d="M521.8 56.9H530.6M526.2 52.5V61.3M523.1 53.8L529.3 60M523.1 60L529.3 53.8" stroke="#f00" stroke-width="0.9" fill="none"/>
<text class="lg" x="553.1" y="31.2">DEM</text>
<text class="lg" x="553.1" y="67.1">DEM-MFBD</text>
</svg>
</body></html>
